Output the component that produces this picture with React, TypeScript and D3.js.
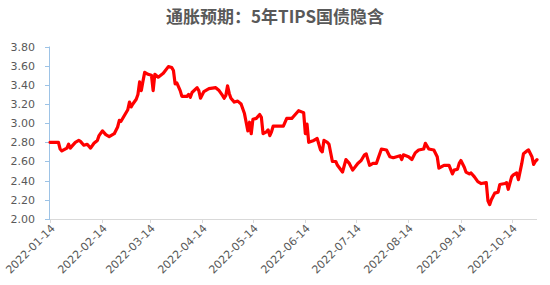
import React from "react";
import * as d3 from "d3";

const title = "通胀预期：5年TIPS国债隐含";

const dates = [
  "2022-01-14","2022-01-19","2022-01-20","2022-01-21","2022-01-24","2022-01-25","2022-01-26","2022-01-27","2022-01-29","2022-01-31",
  "2022-02-01","2022-02-03","2022-02-05","2022-02-07","2022-02-09","2022-02-11","2022-02-12","2022-02-14","2022-02-16","2022-02-18",
  "2022-02-21","2022-02-23","2022-02-24","2022-02-25","2022-02-27","2022-03-01","2022-03-02","2022-03-03","2022-03-04","2022-03-06",
  "2022-03-07","2022-03-08","2022-03-09","2022-03-10","2022-03-11","2022-03-13","2022-03-15","2022-03-16","2022-03-17","2022-03-19",
  "2022-03-22","2022-03-25","2022-03-27","2022-03-28","2022-03-29","2022-03-30","2022-04-01","2022-04-02","2022-04-05","2022-04-06",
  "2022-04-07","2022-04-08","2022-04-11","2022-04-12","2022-04-13","2022-04-15","2022-04-18","2022-04-22","2022-04-24","2022-04-26",
  "2022-04-27","2022-04-28","2022-04-29","2022-04-30","2022-05-01","2022-05-03","2022-05-05","2022-05-07","2022-05-09","2022-05-10",
  "2022-05-11","2022-05-12","2022-05-13","2022-05-14","2022-05-16","2022-05-18","2022-05-19","2022-05-20","2022-05-22","2022-05-23",
  "2022-05-24","2022-05-25","2022-05-26","2022-06-01","2022-06-03","2022-06-06","2022-06-07","2022-06-10","2022-06-13","2022-06-14",
  "2022-06-15","2022-06-16","2022-06-19","2022-06-21","2022-06-23","2022-06-24","2022-06-25","2022-06-27","2022-06-28","2022-06-30",
  "2022-07-02","2022-07-03","2022-07-06","2022-07-08","2022-07-10","2022-07-12","2022-07-15","2022-07-17","2022-07-19","2022-07-20",
  "2022-07-22","2022-07-24","2022-07-26","2022-07-27","2022-07-29","2022-08-01","2022-08-03","2022-08-05","2022-08-09","2022-08-10",
  "2022-08-11","2022-08-14","2022-08-16","2022-08-18","2022-08-20","2022-08-23","2022-08-24","2022-08-26","2022-08-29","2022-08-31",
  "2022-09-01","2022-09-04","2022-09-07","2022-09-09","2022-09-10","2022-09-12","2022-09-13","2022-09-14","2022-09-16","2022-09-17",
  "2022-09-19","2022-09-20","2022-09-22","2022-09-24","2022-09-26","2022-09-29","2022-09-30","2022-10-01","2022-10-02","2022-10-04",
  "2022-10-06","2022-10-07","2022-10-10","2022-10-11","2022-10-12","2022-10-14","2022-10-15","2022-10-17","2022-10-18","2022-10-20",
  "2022-10-21","2022-10-23","2022-10-24","2022-10-26","2022-10-27","2022-10-28","2022-10-29",
];

const values = [
  2.80,2.80,2.73,2.71,2.74,2.78,2.74,2.76,2.80,2.82,
  2.81,2.77,2.78,2.74,2.79,2.82,2.87,2.92,2.88,2.86,
  2.89,2.96,3.03,3.02,3.08,3.14,3.22,3.17,3.20,3.25,
  3.30,3.43,3.34,3.44,3.53,3.51,3.50,3.34,3.51,3.48,
  3.52,3.59,3.58,3.55,3.41,3.42,3.34,3.28,3.28,3.30,
  3.27,3.32,3.37,3.34,3.26,3.33,3.36,3.37,3.34,3.29,
  3.26,3.29,3.39,3.31,3.26,3.22,3.23,3.20,3.10,3.01,
  2.92,3.01,2.89,3.04,3.05,3.09,3.06,2.89,2.91,2.93,
  2.87,2.91,2.97,2.97,3.05,3.05,3.07,3.13,3.11,2.89,
  2.99,2.80,2.82,2.84,2.72,2.70,2.82,2.80,2.78,2.60,
  2.60,2.56,2.49,2.62,2.58,2.51,2.58,2.61,2.67,2.68,
  2.56,2.58,2.58,2.63,2.73,2.72,2.65,2.64,2.66,2.62,
  2.67,2.65,2.62,2.69,2.72,2.73,2.79,2.73,2.72,2.65,
  2.53,2.56,2.56,2.47,2.51,2.52,2.58,2.61,2.54,2.49,
  2.47,2.48,2.44,2.39,2.37,2.38,2.19,2.15,2.20,2.27,
  2.28,2.36,2.37,2.38,2.31,2.44,2.46,2.48,2.41,2.58,
  2.68,2.71,2.72,2.65,2.57,2.60,2.62,
];

const yTicks = [2.0, 2.2, 2.4, 2.6, 2.8, 3.0, 3.2, 3.4, 3.6, 3.8];
const xTickLabels = [
  "2022-01-14","2022-02-14","2022-03-14","2022-04-14","2022-05-14",
  "2022-06-14","2022-07-14","2022-08-14","2022-09-14","2022-10-14",
];
const xDomain = ["2022-01-14", "2022-10-29"];

const W = 550;
const H = 285;
const left = 50;
const right = 537;
const top = 46.5;
const bottom = 219;

const parse = d3.timeParse("%Y-%m-%d");

export default function App() {
  const x = d3.scaleTime()
    .domain(xDomain.map((d) => parse(d) as Date))
    .range([left, right]);
  const y = d3.scaleLinear().domain([2.0, 3.8]).range([bottom, top]);

  const pts = dates.map((d, i) => [x(parse(d) as Date), y(values[i])] as [number, number]);
  const path = d3.line()(pts) || "";
  const font = "'DejaVu Sans', sans-serif";

  return (
    <svg
      width={W}
      height={H}
      style={{ position: "absolute", left: 0, top: 0, background: "#fff" }}
    >
      <text
        x={275}
        y={23}
        textAnchor="middle"
        fontFamily="'Noto Sans CJK SC', sans-serif"
        fontWeight="bold"
        fontSize={17}
        fill="#595959"
      >
        {title}
      </text>

      {/* x axis */}
      <line x1={46} x2={right} y1={bottom + 0.5} y2={bottom + 0.5} stroke="#D9D9D9" strokeWidth={1} />
      {xTickLabels.map((t) => {
        const xx = Math.round(x(parse(t) as Date)) + 0.5;
        return (
          <g key={t}>
            <line x1={xx} x2={xx} y1={bottom} y2={bottom + 4} stroke="#D9D9D9" />
            <text
              transform={`translate(${xx + 3},${bottom + 8}) rotate(-45)`}
              textAnchor="end"
              dominantBaseline="middle"
              fontFamily={font}
              fontSize={11}
              fill="#595959"
            >
              {t}
            </text>
          </g>
        );
      })}

      {/* y axis */}
      <line x1={left - 0.5} x2={left - 0.5} y1={top} y2={bottom + 1} stroke="#9DC3E6" strokeWidth={1} />
      {yTicks.map((t) => {
        const yy = Math.round(y(t)) + 0.5;
        return (
          <g key={t}>
            <line x1={left - 5} x2={left} y1={yy} y2={yy} stroke="#9DC3E6" />
            <text
              x={35}
              y={yy}
              textAnchor="end"
              dominantBaseline="middle"
              fontFamily={font}
              fontSize={11}
              fill="#595959"
            >
              {t.toFixed(2)}
            </text>
          </g>
        );
      })}

      <path
        d={path}
        fill="none"
        stroke="#FF0000"
        strokeWidth={3.2}
        strokeLinejoin="round"
        strokeLinecap="round"
      />
    </svg>
  );
}
